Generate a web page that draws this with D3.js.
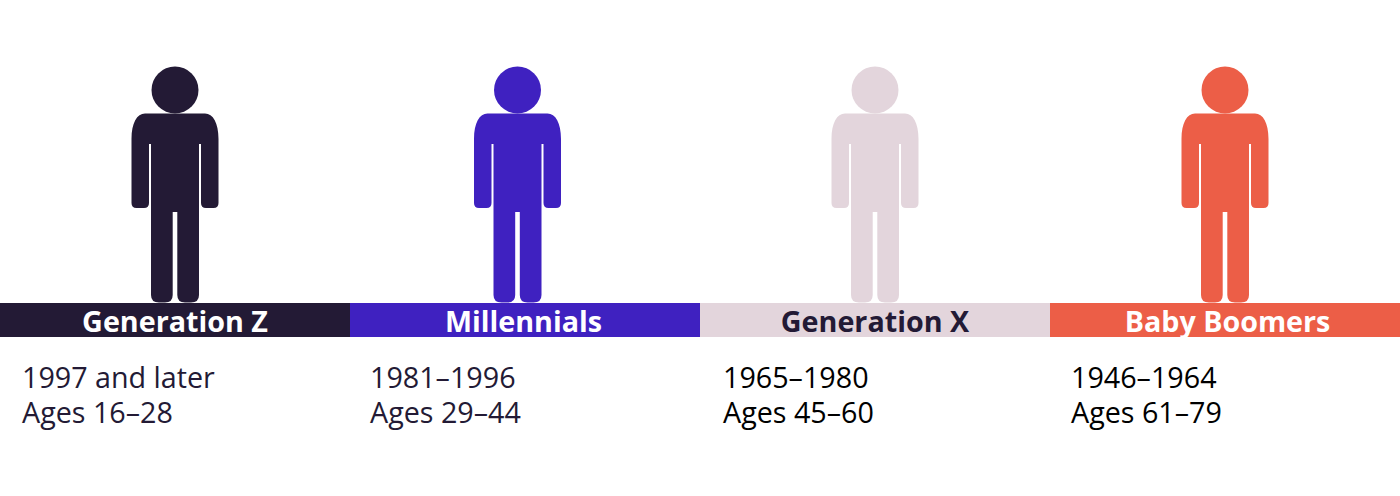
<!DOCTYPE html>
<html>
<head>
<meta charset="utf-8">
<script src="https://cdn.jsdelivr.net/npm/d3@7"></script>
<style>
html, body { margin: 0; padding: 0; background: #fff; }
svg { display: block; }
text { font-family: "Open Sans", sans-serif; }
</style>
</head>
<body>
<div id="chart"></div>
<script>
'use strict';

// values
var generations = ['Generation Z', 'Millennials', 'Generation X', 'Baby Boomers'];
var birthYears = ['1997 and later', '1981\u20131996', '1965\u20131980', '1946\u20131964'];
var ageRanges = ['Ages 16\u201328', 'Ages 29\u201344', 'Ages 45\u201360', 'Ages 61\u201379'];

// styles and hand placement, the original is not quite regular
var barColors = ['#231a35', '#3f21c0', '#e3d5dc', '#ec5e47'];
var barLabelColors = ['#ffffff', '#ffffff', '#231a35', '#ffffff'];
var detailColors = ['#231a35', '#231a35', '#000000', '#000000'];
var figureNudge = [0, -7.5, 0, 0];
var labelNudge = [0, -1.5, 0, 2.5];
var detailLeft = [22, 370, 723, 1071];

var svgWidth = 1400, svgHeight = 496,
    barTop = 303, barHeight = 34;

// person drawn around x = 0, with the feet on y = 0
var bodyPath = 'M0,-189.5 H30 C38,-189.5 43.5,-180 43.5,-164 V-100 Q43.5,-95 38.5,-95 H31 Q26,-95 26,-100 V-159 H24 ' +
    'V-8 Q24,-0.5 16,-0.5 H10 Q2.3,-0.5 2.3,-8 V-91 H-2.3 ' +
    'V-8 Q-2.3,-0.5 -10,-0.5 H-16 Q-24,-0.5 -24,-8 V-159 H-26 ' +
    'V-100 Q-26,-95 -31,-95 H-38.5 Q-43.5,-95 -43.5,-100 V-164 C-43.5,-180 -38,-189.5 -30,-189.5 Z';

var x = d3.scaleBand().domain(generations).range([0, svgWidth]);

var svg = d3.select('#chart')
    .append('svg')
    .attr('width', svgWidth)
    .attr('height', svgHeight)
    .attr('viewBox', '0 0 ' + svgWidth + ' ' + svgHeight);

var columns = svg.selectAll('.generation')
    .data(generations)
    .enter().append('g')
    .attr('class', 'generation');

columns.append('rect')
    .attr('x', function (d) { return x(d); })
    .attr('y', barTop)
    .attr('width', x.bandwidth())
    .attr('height', barHeight)
    .attr('fill', function (d, i) { return barColors[i]; });

var figures = columns.append('g')
    .attr('transform', function (d, i) {
        return 'translate(' + (x(d) + x.bandwidth() / 2 + figureNudge[i]) + ',' + barTop + ')';
    })
    .attr('fill', function (d, i) { return barColors[i]; });

figures.append('circle')
    .attr('cy', -213)
    .attr('r', 23.5);

figures.append('path')
    .attr('d', bodyPath);

columns.append('text')
    .attr('x', function (d, i) { return x(d) + x.bandwidth() / 2 + labelNudge[i]; })
    .attr('y', 331.6)
    .attr('text-anchor', 'middle')
    .attr('font-size', 28.7)
    .attr('font-weight', 700)
    .attr('fill', function (d, i) { return barLabelColors[i]; })
    .text(function (d) { return d; });

columns.append('text')
    .attr('x', function (d, i) { return detailLeft[i]; })
    .attr('y', 388)
    .attr('font-size', 28.7)
    .attr('fill', function (d, i) { return detailColors[i]; })
    .text(function (d, i) { return birthYears[i]; });

columns.append('text')
    .attr('x', function (d, i) { return detailLeft[i]; })
    .attr('y', 423)
    .attr('font-size', 28.7)
    .attr('fill', function (d, i) { return detailColors[i]; })
    .text(function (d, i) { return ageRanges[i]; });
</script>
</body>
</html>
